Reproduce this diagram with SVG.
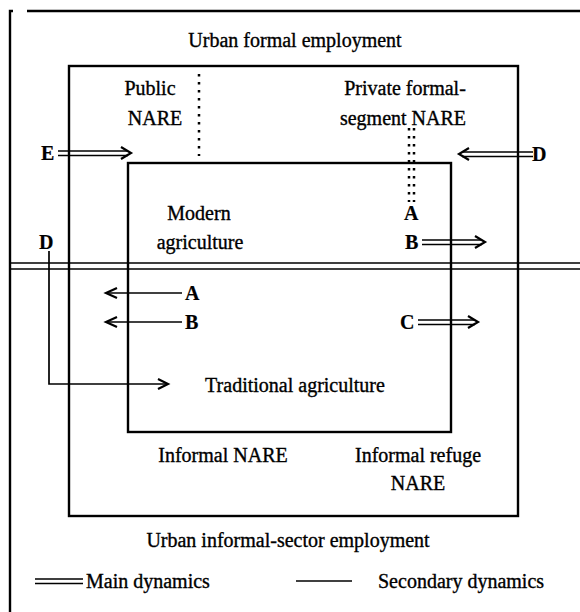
<svg xmlns="http://www.w3.org/2000/svg" width="580" height="612" viewBox="0 0 580 612">
<style>
.t{font-family:"Liberation Serif","Times New Roman",serif;font-size:20px;fill:#000;stroke:#000;stroke-width:0.35}
.c{text-anchor:middle}
.b{font-weight:bold;stroke-width:0.2}
.box{fill:none;stroke:#000;stroke-width:2.4}
.ln{fill:none;stroke:#000;stroke-width:1.7}
.dl{fill:none;stroke:#000;stroke-width:1.5}
.hd{fill:none;stroke:#000;stroke-width:2.2}
.dot{fill:none;stroke:#000;stroke-width:2.5;stroke-dasharray:2.5 5.5}
</style>
<rect width="580" height="612" fill="#fff"/>
<g id="urban-formal-frame">
<path class="box" d="M10 612 V11 H13 M27 11 H580"/>
<text class="t c" x="295" y="47">Urban formal employment</text>
</g>
<g id="sector-divider">
<path class="dl" d="M10 263 H580 M10 269 H580"/>
</g>
<g id="nare-box">
<rect class="box" x="69" y="66" width="449" height="450"/>
<text class="t c" x="150" y="95">Public</text>
<text class="t c" x="155" y="125">NARE</text>
<path class="dot" d="M199 74 V156"/>
<text class="t c" x="405" y="95">Private formal-</text>
<text class="t c" x="403" y="125">segment NARE</text>
<text class="t c" x="223" y="462">Informal NARE</text>
<text class="t c" x="418" y="462">Informal refuge</text>
<text class="t c" x="418" y="490">NARE</text>
</g>
<g id="agriculture-box">
<rect class="box" x="128" y="163" width="323" height="269"/>
<text class="t c" x="199" y="220">Modern</text>
<text class="t c" x="200" y="249">agriculture</text>
<text class="t c" x="295" y="392">Traditional agriculture</text>
</g>
<g id="urban-informal-label">
<text class="t c" x="288" y="547">Urban informal-sector employment</text>
</g>
<g id="connectors">
<path class="dot" d="M409 128 V202 M414 128 V202"/>
<text class="t b" x="41" y="160">E</text>
<path class="dl" d="M58 151 H128 M58 155.5 H128"/>
<path class="hd" d="M121 147 L131 153 L121 159"/>
<text class="t b" x="532" y="161">D</text>
<path class="dl" d="M462 152 H533 M462 156.5 H533"/>
<path class="hd" d="M469 148 L459 154 L469 160"/>
<text class="t b" x="404" y="220">A</text>
<text class="t b" x="405" y="249">B</text>
<path class="dl" d="M422 240 H482 M422 244.5 H482"/>
<path class="hd" d="M475 236 L485 242 L475 248"/>
<text class="t b" x="400" y="329">C</text>
<path class="dl" d="M418 320 H475 M418 324.5 H475"/>
<path class="hd" d="M468 316 L478 322 L468 328"/>
<text class="t b" x="39" y="249">D</text>
<path class="ln" d="M49 251 V384 H166"/>
<path class="hd" d="M158 379 L168 384 L158 389"/>
<text class="t b" x="185" y="300">A</text>
<path class="ln" d="M108 293 H182"/>
<path class="hd" d="M117 288 L106 293 L117 298"/>
<text class="t b" x="185" y="329">B</text>
<path class="ln" d="M108 322 H182"/>
<path class="hd" d="M117 317 L106 322 L117 327"/>
</g>
<g id="legend">
<path class="dl" d="M35 579 H83 M35 583.5 H83"/>
<text class="t" x="86" y="588">Main dynamics</text>
<path class="ln" d="M296 581 H352"/>
<text class="t" x="378" y="588">Secondary dynamics</text>
</g>
</svg>
